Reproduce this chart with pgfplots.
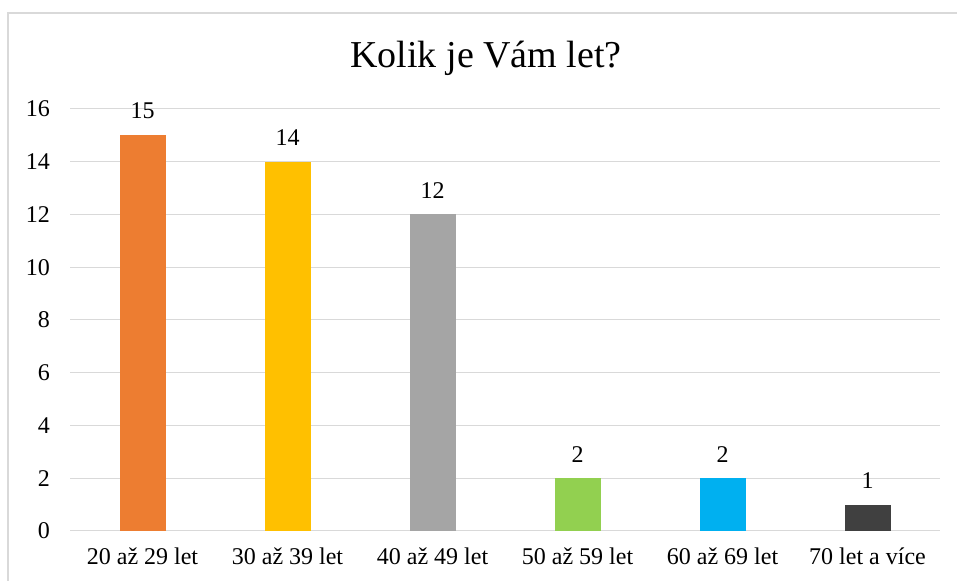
\documentclass[border=0pt]{standalone}
\usepackage{pgfplots}
\pgfplotsset{compat=1.18}
\usepackage{fontspec}
\setmainfont{Liberation Serif}

\definecolor{gridgray}{HTML}{D9D9D9}
\definecolor{c1}{HTML}{ED7D31}
\definecolor{c2}{HTML}{FFC000}
\definecolor{c3}{HTML}{A5A5A5}
\definecolor{c4}{HTML}{92D050}
\definecolor{c5}{HTML}{00B0F0}
\definecolor{c6}{HTML}{404040}

\newcommand{\tickfont}{\fontsize{24bp}{28bp}\selectfont}

\begin{document}
\begin{tikzpicture}[x=1bp,y=1bp]
  \path[use as bounding box] (0,0) rectangle (957,581);
  % chart border (only left and top visible)
  \draw[gridgray, line width=1.2bp] (8,0) -- (8,568) -- (957,568);
  \node[anchor=base, font=\fontsize{38bp}{44bp}\selectfont] at (486,513) {Kolik je Vám let?};

  \begin{axis}[
    at={(70bp,50bp)}, anchor=south west,
    scale only axis, width=870bp, height=422bp,
    ybar, bar width=46bp,
    xmin=-0.5, xmax=5.5, ymin=0, ymax=16,
    xtick={0,1,2,3,4,5},
    xticklabels={20 až 29 let, 30 až 39 let, 40 až 49 let, 50 až 59 let, 60 až 69 let, 70 let a více},
    ytick={0,2,...,16},
    major tick length=0pt,
    axis line style={draw=none},
    ymajorgrids, grid style={gridgray, line width=1bp},
    yticklabel style={font=\tickfont, anchor=east, inner sep=0pt, xshift=-20bp},
    xticklabel style={font=\tickfont, anchor=north, inner sep=0pt, yshift=-17bp},
    /pgf/number format/assume math mode=true,
    nodes near coords,
    every node near coord/.style={font=\tickfont, anchor=south, inner sep=0pt, yshift=16bp},
    bar shift=0pt,
  ]
    \addplot[fill=c1, draw=none] coordinates {(0,15)};
    \addplot[fill=c2, draw=none] coordinates {(1,14)};
    \addplot[fill=c3, draw=none] coordinates {(2,12)};
    \addplot[fill=c4, draw=none] coordinates {(3,2)};
    \addplot[fill=c5, draw=none] coordinates {(4,2)};
    \addplot[fill=c6, draw=none] coordinates {(5,1)};
  \end{axis}
\end{tikzpicture}
\end{document}
